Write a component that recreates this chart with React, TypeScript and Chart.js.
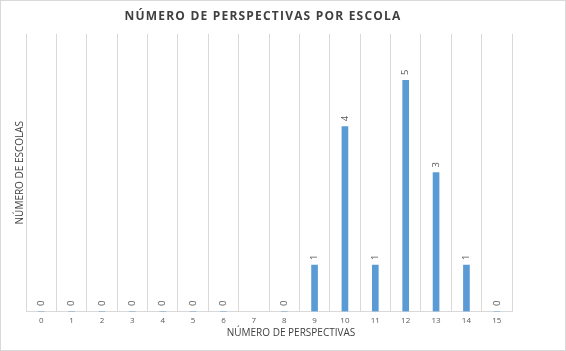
import React, { useEffect, useRef } from "react";
import { Chart, registerables } from "chart.js";

Chart.register(...registerables);

const categories = ["0", "1", "2", "3", "4", "5", "6", "7", "8", "9", "10", "11", "12", "13", "14", "15"];
const schools: (number | null)[] = [0, 0, 0, 0, 0, 0, 0, null, 0, 1, 4, 1, 5, 3, 1, 0];
const titleText = "NÚMERO DE PERSPECTIVAS POR ESCOLA";
const xTitle = "NÚMERO DE PERSPECTIVAS";
const yTitle = "NÚMERO DE ESCOLAS";

const FONT = "'Open Sans', 'Liberation Sans', sans-serif";

const labelPlugin = {
  id: "barLabels",
  afterDatasetsDraw(chart: any) {
    const ctx = chart.ctx;
    const meta = chart.getDatasetMeta(0);
    ctx.save();
    ctx.font = `9.5px ${FONT}`;
    ctx.fillStyle = "#595959";
    ctx.textAlign = "center";
    ctx.textBaseline = "middle";
    meta.data.forEach((el: any, i: number) => {
      const v = schools[i];
      if (v === null || v === undefined) return;
      ctx.save();
      ctx.translate(el.x, el.y - 8);
      ctx.rotate(-Math.PI / 2);
      ctx.fillText(String(v), 0, 0);
      ctx.restore();
    });
    ctx.restore();
  },
};

const titlePlugin = {
  id: "customTitles",
  afterDraw(chart: any) {
    const ctx = chart.ctx;
    const area = chart.chartArea;
    ctx.save();
    ctx.font = `bold 12px ${FONT}`;
    (ctx as any).letterSpacing = "1.2px";
    ctx.fillStyle = "#404040";
    ctx.textAlign = "center";
    ctx.textBaseline = "middle";
    ctx.fillText(titleText, 262, 16);
    (ctx as any).letterSpacing = "0px";
    ctx.font = `10px ${FONT}`;
    ctx.fillText(xTitle, 290, 332);
    ctx.save();
    ctx.translate(19, (area.top + area.bottom) / 2);
    ctx.rotate(-Math.PI / 2);
    ctx.fillText(yTitle, 0, 0);
    ctx.restore();
    ctx.restore();
  },
};

export default function App() {
  const ref = useRef<HTMLCanvasElement | null>(null);
  useEffect(() => {
    if (!ref.current) return;
    const chart = new Chart(ref.current, {
      type: "bar",
      data: {
        labels: categories,
        datasets: [
          {
            data: schools,
            backgroundColor: "#5b9bd5",
            borderWidth: 0,
            barThickness: 6,
          },
        ],
      },
      options: {
        animation: false,
        responsive: false,
        maintainAspectRatio: false,
        layout: { padding: { top: 33, left: 25, right: 53, bottom: 19 } },
        plugins: { legend: { display: false }, tooltip: { enabled: false }, title: { display: false } },
        scales: {
          x: {
            grid: { color: "#d9d9d9", drawTicks: false, offset: true },
            border: { color: "#d9d9d9" },
            ticks: { font: { family: FONT, size: 8 }, color: "#595959", padding: 5, maxRotation: 0 },
          },
          y: {
            display: false,
            min: 0,
            max: 6,
          },
        },
      },
      plugins: [labelPlugin, titlePlugin],
    });
    return () => chart.destroy();
  }, []);
  return (
    <div style={{ position: "fixed", left: 0, top: 0, width: 566, height: 351, boxSizing: "border-box", border: "1px solid #d9d9d9", background: "#fff" }}>
      <canvas ref={ref} width={564} height={349} style={{ display: "block" }} />
    </div>
  );
}
